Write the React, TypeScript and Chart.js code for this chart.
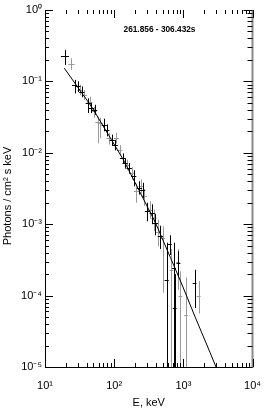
import React, { useEffect, useRef } from "react";
import { Chart, registerables } from "chart.js";

Chart.register(...registerables);

// ---- data ----
const energy = [19.6, 24.0, 26.9, 30.0, 32.3, 34.0, 37.1, 42.2, 44.5, 46.9, 51.1, 52.2, 58.1, 63.2, 71.8, 78.2, 84.3, 93.7, 104, 108, 120, 132, 144, 155, 165, 184, 192, 209, 232, 245, 258, 272, 303, 326, 355, 375, 395, 430, 464, 500, 574, 638, 674, 734, 750, 834, 851, 907, 1088, 1452, 1667];
const energyLo = [17.0, 21.8, 24.6, 27.5, 29.6, 31.2, 34.0, 38.7, 40.8, 43.0, 46.9, 47.9, 53.3, 58.0, 65.9, 71.7, 77.3, 86.0, 95.4, 99.1, 110, 121, 132, 142, 151, 169, 176, 192, 213, 225, 237, 250, 278, 299, 326, 344, 362, 394, 426, 459, 535, 598, 632, 688, 703, 782, 798, 851, 1020, 1362, 1563];
const energyHi = [22.2, 26.7, 29.3, 32.7, 35.2, 37.1, 40.4, 46.0, 48.5, 51.1, 55.7, 56.9, 63.3, 68.9, 78.3, 85.2, 91.9, 102, 113, 118, 131, 144, 157, 169, 180, 201, 209, 228, 253, 267, 281, 296, 330, 355, 387, 409, 431, 469, 506, 545, 615, 680, 718, 782, 800, 889, 907, 967, 1160, 1548, 1777];
const flux = [0.227, 0.176, 0.089, 0.085, 0.076, 0.072, 0.065, 0.0495, 0.052, 0.042, 0.038, 0.040, 0.0274, 0.026, 0.0247, 0.021, 0.016, 0.0152, 0.0129, 0.016, 0.011, 0.0084, 0.0072, 0.0068, 0.0061, 0.0052, 0.0047, 0.0029, 0.0032, 0.0034, 0.0030, 0.00245, 0.00151, 0.0016, 0.00143, 0.00122, 0.00104, 0.00079, 0.00068, 0.00064, 0.000168, 0.00052, 0.00023, 0.000244, 0.000067, 0.0003, 0.000286, 0.000098, 0.000054, 0.00015, 0.000098];
const fluxLo = [0.170, 0.145, 0.068, 0.071, 0.064, 0.060, 0.055, 0.036, 0.044, 0.036, 0.031, 0.034, 0.0136, 0.016, 0.020, 0.017, 0.013, 0.0125, 0.0108, 0.0135, 0.0092, 0.0071, 0.0060, 0.0057, 0.0051, 0.0042, 0.0034, 0.0020, 0.0026, 0.0027, 0.0023, 0.0018, 0.0011, 0.0012, 0.0010, 0.0008, 0.0007, 0.00049, 0.00045, 0.00011, 0.000001, 0.00037, 0.000001, 0.000001, 0.000001, 0.00012, 0.00018, 0.000001, 0.000001, 0.000067, 0.000056];
const fluxHi = [0.276, 0.211, 0.105, 0.100, 0.090, 0.085, 0.076, 0.058, 0.061, 0.050, 0.044, 0.047, 0.032, 0.031, 0.030, 0.025, 0.019, 0.018, 0.0152, 0.019, 0.0128, 0.0098, 0.0084, 0.0080, 0.0072, 0.0063, 0.0057, 0.0037, 0.0040, 0.0042, 0.0038, 0.0031, 0.0020, 0.0021, 0.0019, 0.0016, 0.0014, 0.00116, 0.00095, 0.00093, 0.00055, 0.00070, 0.00045, 0.00055, 0.00020, 0.00045, 0.00042, 0.00022, 0.00018, 0.00023, 0.00016];
// 0 = black detector, 1 = gray detector
const detector = [0, 1, 0, 0, 1, 0, 1, 0, 1, 0, 1, 0, 1, 1, 0, 0, 1, 0, 0, 1, 1, 0, 0, 1, 0, 1, 0, 1, 0, 1, 0, 1, 0, 1, 0, 1, 0, 1, 0, 1, 0, 0, 1, 0, 0, 1, 0, 1, 1, 0, 1];

const modelEnergy = [19, 27, 47, 80, 136, 230, 395, 650, 930, 1500, 2430, 3060];
const modelFlux = [0.153, 0.0947, 0.0444, 0.0188, 0.00798, 0.00295, 0.00105, 0.000342, 0.000152, 0.0000487, 0.000016, 0.0000093];

const xTickValues = [10, 100, 1000, 10000];
const xTickLabels = ["10¹", "10²", "10³", "10⁴"];
const yTickValues = [1, 0.1, 0.01, 0.001, 0.0001, 0.00001];
const yTickLabels = ["10⁰", "10⁻¹", "10⁻²", "10⁻³", "10⁻⁴", "10⁻⁵"];
const intervalLabel = "261.856 - 306.432s";
const xTitle = "E, keV";
const yTitle = "Photons / cm² s keV";

const FONT = "'Liberation Sans', Arial, Helvetica, sans-serif";
const BLACK = "#000000";
const GRAY = "#9a9a9a";

const decoration = {
  id: "decoration",
  beforeDatasetsDraw(chart: any) {
    const { ctx, chartArea: a, scales } = chart;
    const x = scales.x;
    const y = scales.y;
    ctx.save();
    ctx.beginPath();
    ctx.rect(a.left, a.top, a.right - a.left, a.bottom - a.top);
    ctx.clip();
    ctx.lineWidth = 1;
    for (const pass of [1, 0]) {
      ctx.strokeStyle = pass === 1 ? GRAY : BLACK;
      ctx.beginPath();
      for (let i = 0; i < energy.length; i++) {
        if (detector[i] !== pass) continue;
        const px = Math.round(x.getPixelForValue(energy[i])) + 0.5;
        const py = Math.round(y.getPixelForValue(flux[i])) + 0.5;
        const x0 = x.getPixelForValue(energyLo[i]);
        const x1 = x.getPixelForValue(energyHi[i]);
        const y0 = y.getPixelForValue(fluxLo[i]);
        const y1 = y.getPixelForValue(fluxHi[i]);
        ctx.moveTo(x0, py);
        ctx.lineTo(x1, py);
        ctx.moveTo(px, y0);
        ctx.lineTo(px, y1);
      }
      ctx.stroke();
    }
    ctx.restore();
  },
  afterDraw(chart: any) {
    const { ctx, chartArea: a, scales } = chart;
    const x = scales.x;
    const y = scales.y;
    ctx.save();
    // frame
    ctx.lineWidth = 1;
    ctx.strokeStyle = BLACK;
    ctx.beginPath();
    ctx.moveTo(a.left + 0.5, a.top);
    ctx.lineTo(a.left + 0.5, a.bottom + 0.5);
    ctx.lineTo(a.right, a.bottom + 0.5);
    ctx.stroke();
    ctx.strokeStyle = "#8a8a8a";
    ctx.lineWidth = 2;
    ctx.beginPath();
    ctx.moveTo(a.right, a.top);
    ctx.lineTo(a.right, a.bottom + 1);
    ctx.stroke();

    // ticks
    ctx.lineWidth = 1;
    ctx.strokeStyle = BLACK;
    ctx.beginPath();
    for (let n = 1; n <= 4; n++) {
      for (let k = 1; k <= 9; k++) {
        const v = k * Math.pow(10, n);
        if (v > 10000) break;
        const len = k === 1 ? 8 : 4;
        const px = Math.round(x.getPixelForValue(v)) + 0.5;
        ctx.moveTo(px, a.bottom);
        ctx.lineTo(px, a.bottom - len);
        ctx.moveTo(px, a.top);
        ctx.lineTo(px, a.top + len);
      }
    }
    for (let n = -5; n <= 0; n++) {
      for (let k = 1; k <= 9; k++) {
        const v = k * Math.pow(10, n);
        if (v > 1) break;
        const len = k === 1 ? 8 : 4;
        const py = Math.round(y.getPixelForValue(v)) + 0.5;
        ctx.moveTo(a.left, py);
        ctx.lineTo(a.left + len, py);
        ctx.moveTo(a.right, py);
        ctx.lineTo(a.right - len - 1, py);
      }
    }
    ctx.stroke();

    // interval label
    ctx.fillStyle = BLACK;
    ctx.font = `bold 8.3px ${FONT}`;
    ctx.textAlign = "center";
    ctx.textBaseline = "middle";
    ctx.fillText(intervalLabel, 159.5, 30);

    // y axis title
    ctx.font = `11px ${FONT}`;
    ctx.translate(8, 196);
    ctx.rotate(-Math.PI / 2);
    ctx.fillText(yTitle, 0, 0);
    ctx.restore();
  },
};

export default function App() {
  const canvasRef = useRef<HTMLCanvasElement | null>(null);

  useEffect(() => {
    const canvas = canvasRef.current;
    if (!canvas) return;
    const chart = new Chart(canvas, {
      type: "scatter",
      data: {
        datasets: [
          {
            label: "spectrum",
            data: energy.map((e, i) => ({ x: e, y: flux[i] })),
            pointRadius: 0,
            showLine: false,
          },
          {
            label: "model",
            data: modelEnergy.map((e, i) => ({ x: e, y: modelFlux[i] })),
            showLine: true,
            borderColor: BLACK,
            borderWidth: 1,
            pointRadius: 0,
            tension: 0,
          },
        ],
      },
      options: {
        responsive: false,
        animation: false,
        devicePixelRatio: 1,
        layout: { padding: { left: 0, right: 12, top: 10, bottom: 0 } },
        plugins: {
          legend: { display: false },
          tooltip: { enabled: false },
          title: { display: false },
        },
        scales: {
          x: {
            type: "logarithmic",
            min: 10,
            max: 10000,
            grid: { display: false, drawTicks: false },
            border: { display: false },
            afterBuildTicks: (s: any) => {
              s.ticks = xTickValues.map((v) => ({ value: v }));
            },
            afterFit: (s: any) => {
              s.height = 47;
            },
            ticks: {
              autoSkip: false,
              maxRotation: 0,
              padding: 12,
              color: BLACK,
              font: { family: FONT, size: 11 },
              callback: (v: any) => {
                const i = xTickValues.indexOf(Number(v));
                return i >= 0 ? xTickLabels[i] : "";
              },
            },
            title: {
              display: true,
              text: xTitle,
              color: BLACK,
              font: { family: FONT, size: 11 },
              padding: { top: 0, bottom: 4 },
            },
          },
          y: {
            type: "logarithmic",
            min: 0.00001,
            max: 1,
            grid: { display: false, drawTicks: false },
            border: { display: false },
            afterBuildTicks: (s: any) => {
              s.ticks = yTickValues.map((v) => ({ value: v }));
            },
            afterFit: (s: any) => {
              s.width = 45;
            },
            ticks: {
              autoSkip: false,
              padding: 3,
              color: BLACK,
              font: { family: FONT, size: 11 },
              callback: (v: any) => {
                const i = yTickValues.findIndex((t) => Math.abs(Math.log10(t) - Math.log10(Number(v))) < 1e-6);
                return i >= 0 ? yTickLabels[i] : "";
              },
            },
          },
        },
      },
      plugins: [decoration],
    });
    return () => chart.destroy();
  }, []);

  return (
    <div style={{ position: "fixed", left: 0, top: 0, width: 273, height: 414, background: "#ffffff" }}>
      <canvas ref={canvasRef} width={273} height={414} style={{ display: "block" }} />
    </div>
  );
}
